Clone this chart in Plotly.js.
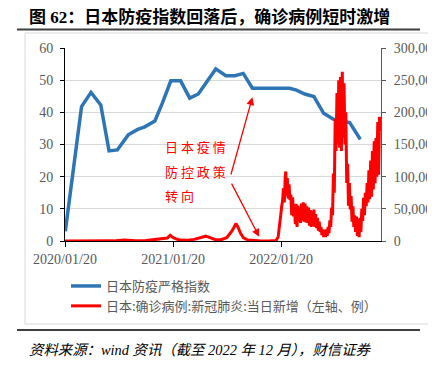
<!DOCTYPE html>
<html><head><meta charset="utf-8">
<script src="https://cdn.plot.ly/plotly-3.0.1.min.js"></script>
<style>html,body{margin:0;padding:0;background:#fff}#chart{width:441px;height:366px}</style>
</head><body><div id="chart"></div>
<script>
// Japan stringency index (left axis)
const idxDates = ['2020-01-21','2020-03-16','2020-04-17','2020-05-20','2020-06-17','2020-07-15','2020-08-21','2020-09-22','2020-10-16','2020-11-19','2020-12-14','2021-01-12','2021-02-14','2021-03-17','2021-04-15','2021-05-13','2021-06-13','2021-07-17','2021-08-17','2021-09-14','2021-10-15','2022-02-18','2022-03-13','2022-04-10','2022-05-11','2022-06-13','2022-07-15','2022-09-09','2022-10-15'];
const idxValues = [3,41.8,46.2,42.3,28,28.3,33,34.7,35.5,37.3,42.8,49.8,49.8,44.4,45.7,49.2,53.5,51.4,51.4,52.1,47.5,47.5,46.9,45.7,44.9,39.7,37.9,36.8,31.6];

// Japan daily new confirmed cases (right axis)
const caseDates = ['2020-01-20','2020-03-01','2020-04-11','2020-05-20','2020-07-01','2020-08-07','2020-09-15','2020-10-20','2020-11-20','2020-12-20','2020-12-31','2021-01-10','2021-01-20','2021-02-10','2021-03-10','2021-04-01','2021-04-20','2021-05-10','2021-05-20','2021-06-10','2021-07-01','2021-07-20','2021-08-01','2021-08-10','2021-08-20','2021-08-27','2021-09-05','2021-09-15','2021-09-30','2021-10-20','2021-11-15','2021-12-15',
'2022-01-03','2022-01-07','2022-01-10','2022-01-13','2022-01-16','2022-01-19','2022-01-22','2022-01-25','2022-01-28','2022-01-31','2022-02-03','2022-02-05','2022-02-07','2022-02-10','2022-02-13','2022-02-16','2022-02-19','2022-02-22','2022-02-25','2022-02-28',
'2022-03-03','2022-03-06','2022-03-09','2022-03-12','2022-03-15','2022-03-18','2022-03-21','2022-03-24','2022-03-27','2022-03-30','2022-04-02','2022-04-05','2022-04-08','2022-04-11','2022-04-14','2022-04-17','2022-04-20','2022-04-23','2022-04-26','2022-04-29',
'2022-05-02','2022-05-05','2022-05-08','2022-05-11','2022-05-14','2022-05-17','2022-05-20','2022-05-23','2022-05-26','2022-05-29','2022-06-01','2022-06-04','2022-06-07','2022-06-10','2022-06-13','2022-06-16','2022-06-19','2022-06-22','2022-06-25','2022-06-28',
'2022-07-01','2022-07-04','2022-07-07','2022-07-10','2022-07-13','2022-07-16','2022-07-19','2022-07-22','2022-07-25','2022-07-28','2022-07-31','2022-08-03','2022-08-06','2022-08-09','2022-08-12','2022-08-15','2022-08-18','2022-08-21','2022-08-24','2022-08-27','2022-08-30',
'2022-09-02','2022-09-05','2022-09-08','2022-09-11','2022-09-14','2022-09-17','2022-09-20','2022-09-23','2022-09-26','2022-09-29','2022-10-02','2022-10-05','2022-10-08','2022-10-11','2022-10-14','2022-10-17','2022-10-20','2022-10-23','2022-10-26','2022-10-29',
'2022-11-01','2022-11-04','2022-11-07','2022-11-10','2022-11-13','2022-11-16','2022-11-19','2022-11-22','2022-11-25','2022-11-28','2022-12-01','2022-12-04','2022-12-07','2022-12-10','2022-12-13','2022-12-16','2022-12-19','2022-12-21'];
const caseValues = [0,20,700,30,200,1600,500,700,2400,3000,4500,9000,5000,1500,1300,2500,5000,7500,6000,2500,2000,5000,12000,18000,27000,22000,12000,5000,1500,400,150,200,
500,4000,6000,18000,26000,41000,54000,62000,82000,60000,100000,108000,70000,98000,66000,88000,64000,72000,40000,68000,
38000,58000,26000,58000,22000,55000,30000,52000,28000,58000,32000,60000,30000,58000,29000,54000,28000,52000,24000,48000,
22000,46000,24000,49000,22000,42000,20000,36000,16000,30000,14000,22000,9000,18000,6000,17000,6000,18000,8000,22000,
12000,32000,22000,52000,40000,105000,75000,190000,140000,230000,150000,250000,145000,255000,140000,263000,160000,245000,150000,200000,90000,
120000,55000,90000,49000,70000,30000,54000,22000,40000,14000,38000,8000,34000,6000,36000,14000,50000,31000,67000,40000,
75000,54000,90000,60000,110000,65000,125000,69000,140000,80000,155000,90000,160000,100000,185000,103000,193000,170000];

const tickVals = ['2020-01-20','2021-01-20','2022-01-20'];
const tickText = ['2020/01/20','2021/01/20','2022/01/20'];
const leftTicks = [0,10,20,30,40,50,60];
const rightTicks = [0,50000,100000,150000,200000,250000,300000];

const W = 316, H = 193, L = 65, T = 48;
const px = v => (v - L) / W;
const py = v => (T + H - v) / H;

const serif = 'Liberation Serif, Times New Roman, serif';
const cjk = 'Noto Sans CJK SC, sans-serif';
const gray = '#595959';

const traces = [
  {x: idxDates, y: idxValues, type: 'scatter', mode: 'lines', name: '日本防疫严格指数',
   line: {color: '#2e75b6', width: 3.5}, yaxis: 'y'},
  {x: caseDates, y: caseValues, type: 'scatter', mode: 'lines', name: '日本:确诊病例:新冠肺炎:当日新增（左轴、例）',
   line: {color: '#ff0000', width: 3}, yaxis: 'y2'}
];

const layout = {
  width: 441, height: 366,
  margin: {l: 65, r: 60, t: 48, b: 125},
  paper_bgcolor: '#fff', plot_bgcolor: '#fff',
  showlegend: true,
  legend: {x: px(66), y: py(271), xanchor: 'left', yanchor: 'top', orientation: 'v',
    font: {family: cjk, size: 13, color: gray}, bgcolor: 'rgba(0,0,0,0)'},
  xaxis: {type: 'date', range: ['2020-01-20', '2022-12-24'], tickmode: 'array', tickvals: tickVals, ticktext: tickText,
    showgrid: false, showline: true, linecolor: '#000', linewidth: 1, ticks: 'outside', ticklen: 5, tickcolor: '#000',
    tickfont: {family: serif, size: 14, color: gray}, zeroline: false, fixedrange: true},
  yaxis: {range: [0, 60], tickmode: 'array', tickvals: leftTicks, showgrid: true, gridcolor: '#d9d9d9', gridwidth: 1,
    showline: true, linecolor: '#000', ticks: 'outside', ticklen: 4, tickcolor: '#000', zeroline: false,
    tickfont: {family: serif, size: 14, color: gray}, ticklabelstandoff: 4},
  yaxis2: {range: [0, 300000], overlaying: 'y', side: 'right', tickmode: 'array', tickvals: rightTicks, tickformat: ',',
    showgrid: false, showline: true, linecolor: gray, ticks: 'outside', ticklen: 4, tickcolor: gray, zeroline: false,
    tickfont: {family: serif, size: 14, color: gray}, ticklabelstandoff: 5},
  shapes: [
    {type: 'line', xref: 'paper', yref: 'paper', x0: px(17), x1: px(420), y0: py(29.5), y1: py(29.5), line: {color: '#3f3f3f', width: 2}},
    {type: 'line', xref: 'paper', yref: 'paper', x0: px(25), x1: px(428), y0: py(33), y1: py(33), line: {color: '#d9d9d9', width: 1}},
    {type: 'line', xref: 'paper', yref: 'paper', x0: px(25), x1: px(25), y0: py(33), y1: py(324), line: {color: '#d9d9d9', width: 1}},
    {type: 'line', xref: 'paper', yref: 'paper', x0: px(25), x1: px(428), y0: py(324), y1: py(324), line: {color: '#d9d9d9', width: 1}},
    {type: 'line', xref: 'paper', yref: 'paper', x0: px(17), x1: px(420), y0: py(330), y1: py(330), line: {color: '#3f3f3f', width: 2}},
    {type: 'rect', xref: 'paper', yref: 'paper', x0: px(427), x1: px(441), y0: py(323), y1: py(34), fillcolor: '#fff', line: {width: 0}, layer: 'above'}
  ],
  annotations: [
    {xref: 'paper', yref: 'paper', x: px(27), y: py(17), xanchor: 'left', yanchor: 'middle', showarrow: false,
     text: '<b>图 62：日本防疫指数回落后，确诊病例短时激增</b>', font: {family: 'Liberation Serif, ' + cjk, size: 17, color: '#000'}},
    {xref: 'paper', yref: 'paper', x: px(27), y: py(350), xanchor: 'left', yanchor: 'middle', showarrow: false,
     text: '<i>资料来源：wind 资讯（截至 2022 年 12 月），财信证券</i>', font: {family: 'Liberation Serif, Noto Sans CJK SC', size: 14.4, color: '#000'}},
    {xref: 'paper', yref: 'paper', x: px(163), y: py(146), xanchor: 'left', yanchor: 'middle', showarrow: false,
     text: '日 本 疫 情', font: {family: cjk, size: 13, color: '#ff0000'}},
    {xref: 'paper', yref: 'paper', x: px(163), y: py(171), xanchor: 'left', yanchor: 'middle', showarrow: false,
     text: '防 控 政 策', font: {family: cjk, size: 13, color: '#ff0000'}},
    {xref: 'paper', yref: 'paper', x: px(163), y: py(195), xanchor: 'left', yanchor: 'middle', showarrow: false,
     text: '转 向', font: {family: cjk, size: 13, color: '#ff0000'}},
    {xref: 'x', yref: 'y', x: '2021-10-15', y: 44.7, axref: 'x', ayref: 'y', ax: '2021-08-02', ay: 20.2,
     showarrow: true, arrowhead: 2, arrowsize: 1.2, arrowwidth: 1.3, arrowcolor: '#ff0000', text: ''},
    {xref: 'x', yref: 'y', x: '2021-11-07', y: 1.3, axref: 'x', ayref: 'y', ax: '2021-08-03', ay: 18.3,
     showarrow: true, arrowhead: 2, arrowsize: 1.2, arrowwidth: 1.3, arrowcolor: '#ff0000', text: ''}
  ]
};

Plotly.newPlot('chart', traces, layout, {staticPlot: true, displayModeBar: false});
</script>
</body></html>
